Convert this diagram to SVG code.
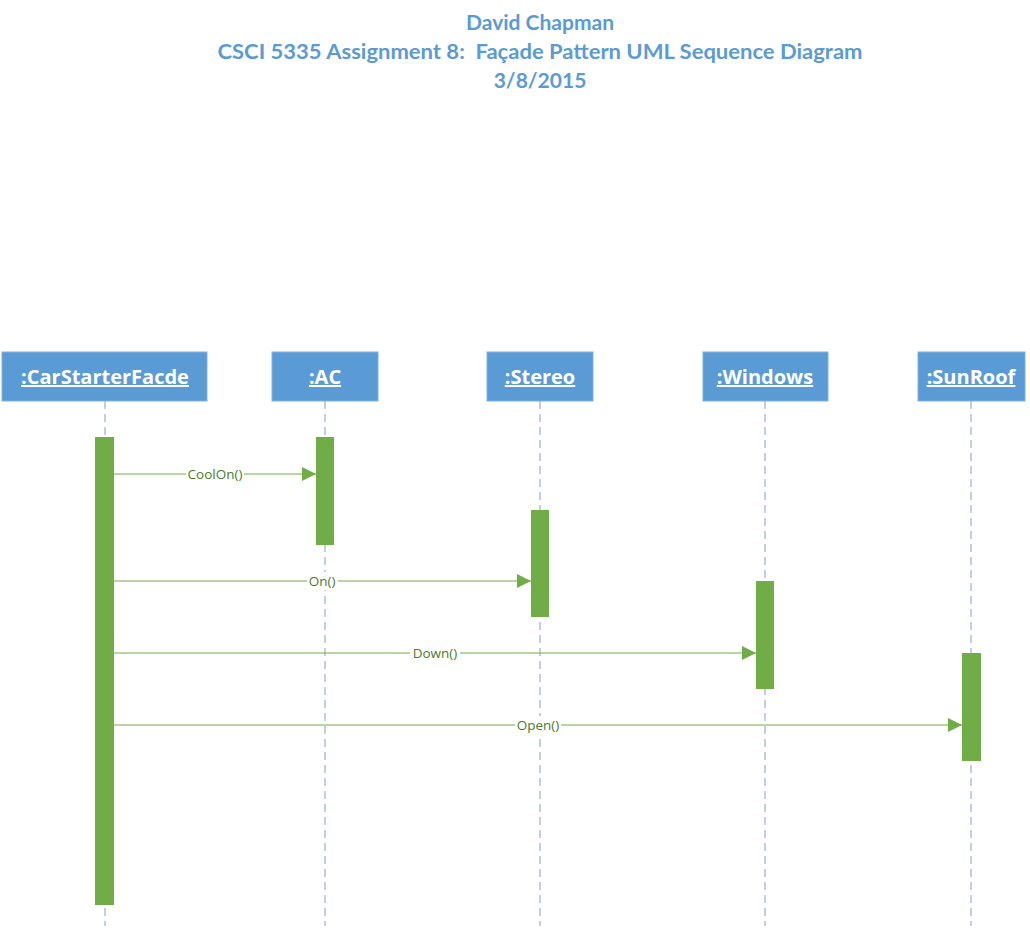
<svg xmlns="http://www.w3.org/2000/svg" width="1030" height="928" viewBox="0 0 1030 928">
<defs>
<style>
.title{font-family:Lato,"Open Sans",sans-serif;font-weight:bold;font-size:21px;fill:#5b9bd5;text-anchor:middle}
.hdr{fill:#5b9bd5;stroke:#7fb2e0;stroke-width:1}
.hdrt{font-family:"Open Sans","Noto Sans",sans-serif;font-weight:bold;font-size:20px;fill:#ffffff;text-anchor:middle;text-decoration:underline}
.life{stroke:#9fb7d3;stroke-width:1.3;stroke-dasharray:8,5;fill:none}
.act{fill:#70ad47}
.msg{stroke:#70ad47;stroke-width:1.2;fill:none}
.lbl{font-family:"Open Sans","Noto Sans",sans-serif;font-size:13.5px;fill:#4e7a2c;text-anchor:middle}
.lblbg{fill:#ffffff}
</style>
<marker id="arr" markerWidth="14" markerHeight="14" refX="14" refY="7" orient="auto" markerUnits="userSpaceOnUse">
<path d="M0,0 L14,7 L0,14 Z" fill="#70ad47"/>
</marker>
</defs>
<rect width="1030" height="928" fill="#ffffff"/>
<g id="title">
<text class="title" x="540" y="30">David Chapman</text>
<text class="title" x="540" y="59" textLength="645" lengthAdjust="spacingAndGlyphs" xml:space="preserve">CSCI 5335 Assignment 8:  Façade Pattern UML Sequence Diagram</text>
<text class="title" x="540" y="88">3/8/2015</text>
</g>
<g id="lifelines">
<line class="life" x1="105" y1="401" x2="105" y2="926"/>
<line class="life" x1="325" y1="401" x2="325" y2="926"/>
<line class="life" x1="540" y1="401" x2="540" y2="926"/>
<line class="life" x1="765" y1="401" x2="765" y2="926"/>
<line class="life" x1="971" y1="401" x2="971" y2="926"/>
</g>
<g id="CarStarterFacde">
<rect class="hdr" x="2" y="352" width="205" height="49"/>
<text class="hdrt" x="105" y="384">:CarStarterFacde</text>
<rect class="act" x="95" y="437" width="19" height="468"/>
</g>
<g id="AC">
<rect class="hdr" x="272" y="352" width="106" height="49"/>
<text class="hdrt" x="325" y="384">:AC</text>
<rect class="act" x="316" y="437" width="18" height="108"/>
</g>
<g id="Stereo">
<rect class="hdr" x="487" y="352" width="106" height="49"/>
<text class="hdrt" x="540" y="384">:Stereo</text>
<rect class="act" x="531" y="510" width="18" height="107"/>
</g>
<g id="Windows">
<rect class="hdr" x="703" y="352" width="125" height="49"/>
<text class="hdrt" x="765" y="384">:Windows</text>
<rect class="act" x="756" y="581" width="18" height="108"/>
</g>
<g id="SunRoof">
<rect class="hdr" x="918" y="352" width="107" height="49"/>
<text class="hdrt" x="971" y="384">:SunRoof</text>
<rect class="act" x="962" y="653" width="19" height="108"/>
</g>
<g id="connectors">
<line class="msg" x1="114" y1="474" x2="316" y2="474" marker-end="url(#arr)"/>
<rect class="lblbg" x="186" y="465" width="58" height="18"/>
<text class="lbl" x="215" y="479">CoolOn()</text>
<line class="msg" x1="114" y1="581" x2="531" y2="581" marker-end="url(#arr)"/>
<rect class="lblbg" x="307" y="572" width="31" height="18"/>
<text class="lbl" x="322" y="586">On()</text>
<line class="msg" x1="114" y1="653" x2="756" y2="653" marker-end="url(#arr)"/>
<rect class="lblbg" x="410" y="644" width="50" height="18"/>
<text class="lbl" x="435" y="658">Down()</text>
<line class="msg" x1="114" y1="725" x2="962" y2="725" marker-end="url(#arr)"/>
<rect class="lblbg" x="515" y="716" width="46" height="18"/>
<text class="lbl" x="538" y="730">Open()</text>
</g>
</svg>
